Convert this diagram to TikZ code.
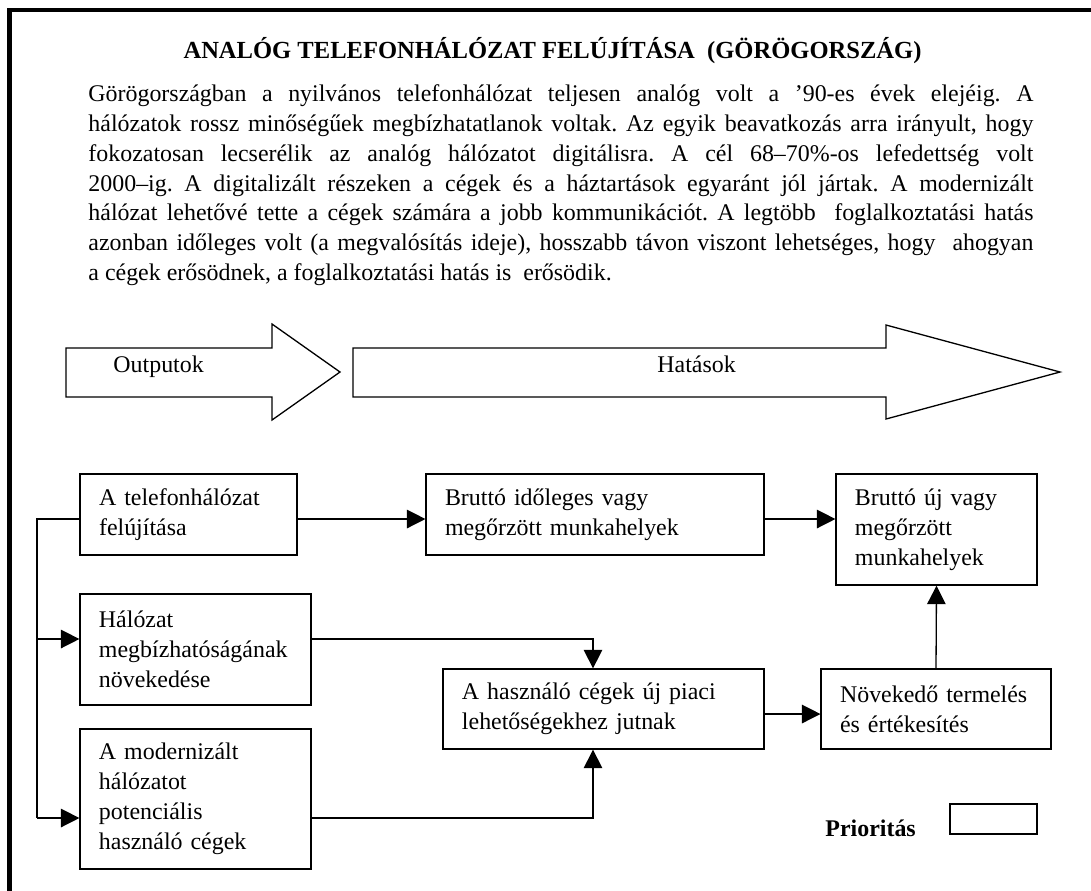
\documentclass[tikz,border=0pt]{standalone}
\usepackage{fontspec}
\setmainfont{Liberation Serif}
\usetikzlibrary{arrows.meta}
\frenchspacing

\tikzset{
  box/.style={draw, line width=0.6pt, align=left, inner xsep=8.7pt, inner ysep=0pt},
  conn/.style={line width=0.6pt, -{Triangle[length=8.5pt,width=8.5pt]}},
  line/.style={line width=0.6pt},
  txt/.style={anchor=base west, inner sep=0pt}
}
\newcommand{\parline}[1]{\makebox[434.7pt][s]{#1}}

\begin{document}
\begin{tikzpicture}[x=0.46pt, y=-0.46pt, font=\fontsize{11}{13.8}\selectfont]
        \useasboundingbox (0,0) rectangle (1091,890);
        \clip (0,0) rectangle (1091,890);
        \draw[line width=2pt] (9.5,10) rectangle (1110,910);

        % title and text
        \node[anchor=base, inner sep=0pt] (title) at (552.5,58) {\fontsize{11.3}{13.8}\selectfont\textbf{ANALÓG TELEFONHÁLÓZAT FELÚJÍTÁSA\ \ (GÖRÖGORSZÁG)}};
        \node[txt] (p1) at (88,101.5) {\parline{Görögországban a nyilvános telefonhálózat teljesen analóg volt a ’90-es évek elejéig. A}};
        \node[txt] (p2) at (88,131.3) {\parline{hálózatok rossz minőségűek megbízhatatlanok voltak. Az egyik beavatkozás arra irányult, hogy}};
        \node[txt] (p3) at (88,161.2) {\parline{fokozatosan lecserélik az analóg hálózatot digitálisra. A cél 68–70\%-os lefedettség volt}};
        \node[txt] (p4) at (88,191) {\parline{2000–ig. A digitalizált részeken a cégek és a háztartások egyaránt jól jártak. A modernizált}};
        \node[txt] (p5) at (88,220.9) {\parline{hálózat lehetővé tette a cégek számára a jobb kommunikációt. A legtöbb\ \ foglalkoztatási hatás}};
        \node[txt] (p6) at (88,250.7) {\parline{azonban időleges volt (a megvalósítás ideje), hosszabb távon viszont lehetséges, hogy\ \ ahogyan}};
        \node[txt] (p7) at (88,280.6) {a cégek erősödnek, a foglalkoztatási hatás is\ \ erősödik.};

        % block arrows
        \draw[line] (66,348) -- (272,348) -- (272,324) -- (340,372) -- (272,420) -- (272,397) -- (66,397) -- cycle;
        \draw[line] (353,348) -- (886,348) -- (886,325) -- (1060,372) -- (886,419) -- (886,397) -- (353,397) -- cycle;
        \node[txt] (outp) at (113,372.5) {Outputok};
        \node[txt] (hat) at (657,372.5) {Hatások};

        % boxes
        \node[box, text width=82.3pt, minimum height=37.3pt] (b1) at (188.5,514.5) {A telefonhálózat\\felújítása};
        \node[box, text width=138pt, minimum height=37.3pt] (b2) at (595,514.5) {Bruttó időleges vagy\\megőrzött munkahelyek};
        \node[box, text width=75pt, minimum height=51.1pt] (b3) at (936.5,529.5) {Bruttó új vagy\\megőrzött\\munkahelyek};
        \node[box, text width=88.8pt, minimum height=51.1pt] (b4) at (195.5,649.5) {Hálózat\\megbízhatóságának\\növekedése};
        \node[box, text width=88.8pt, minimum height=64.4pt] (b5) at (195.5,799) {A modernizált\\hálózatot\\potenciális\\használó cégek};
        \node[box, text width=130.2pt, minimum height=36.8pt] (b6) at (603.5,709) {A használó cégek új piaci\\lehetőségekhez jutnak};
        \node[box, text width=88.3pt, minimum height=36.8pt] (b7) at (936,709) {Növekedő termelés\\és értékesítés};

        \node[txt] (prio) at (825,836.5) {\textbf{Prioritás}};
        \node[draw, line width=0.6pt, minimum width=40pt, minimum height=13.8pt, inner sep=0pt] (prbox) at (993.5,819) {};

        % connectors
        \coordinate (t1) at (37,519);
        \coordinate (t2) at (37,639);
        \coordinate (t3) at (37,818);
        \coordinate (m) at (593,714);

        \draw[line] (b1.west |- t1) -- (t1) -- (t3);
        \draw[conn] (t2) -- (b4.west |- t2);
        \draw[conn] (t3) -- (b5.west |- t3);
        \draw[conn] (b1.east |- t1) -- (b2.west |- t1);
        \draw[conn] (b2.east |- t1) -- (b3.west |- t1);
        \draw[conn] (b4.east |- t2) -| (m |- b6.north);
        \draw[conn] (b5.east |- t3) -| (m |- b6.south);
        \draw[conn] (b6.east |- m) -- (b7.west |- m);
        \draw[conn] (b7.north) -- (b3.south);

    \end{tikzpicture}
\end{document}
